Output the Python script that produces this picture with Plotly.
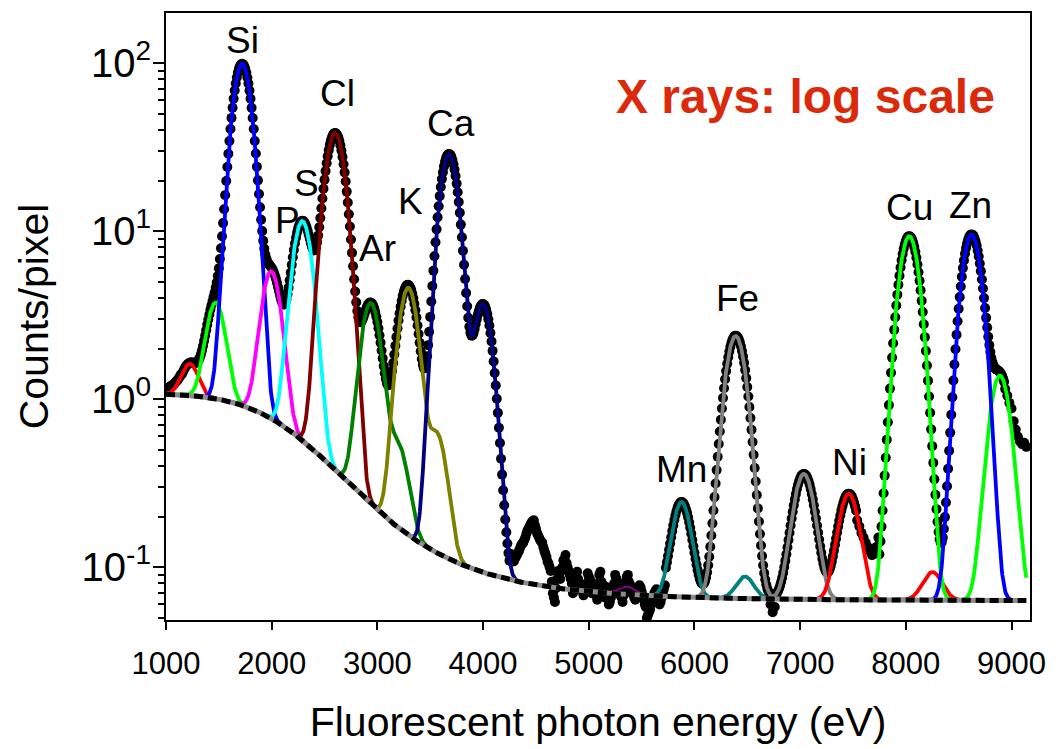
import numpy as np
import plotly.graph_objects as go

# ---------------- data ----------------
# Smooth background (read levels): low-energy level, high-energy level, mid energy, steepness
bg_low = 1.08
bg_high = 0.063
bg_mid = 2865.0
bg_steep = 5.5

# Fitted fluorescence components (K-alpha + K-beta share one colour / one curve)
peak_names = ["Mg", "Al", "Si", "P", "S", "Cl", "Ar", "K", "Ca", "Cr", "Mn", "Fe", "Ni", "Cu", "Zn"]
peak_colors = ["#ff0000", "#00ff00", "#0000ff", "#ff00ff", "#00ffff", "#800000", "#008000",
               "#808000", "#000080", "#800080", "#008080", "#808080", "#ff0000", "#00ff00", "#0000ff"]
ka_center = [1225, 1470, 1720, 1995, 2290, 2600, 2936, 3292, 3678, 5360, 5878, 6390, 7460, 8032, 8622]
ka_amp = [0.57, 2.75, 98.0, 5.0, 10.9, 38.0, 3.5, 4.45, 28.5, 0.008, 0.178, 2.31, 0.21, 9.27, 9.49]
kb_center = [1300, 1560, 1830, 2140, 2465, 2815, 3190, 3560, 3998, 5950, 6478, 7035, 8252, 8890, 9570]
kb_amp = [0.0, 0.0, 0.0, 0.0, 0.0, 0.0, 0.37, 0.5, 3.58, 0.0, 0.023, 0.295, 0.030, 1.32, 0.0]
sigma = [75, 80, 81, 82, 84, 86, 84, 82, 80, 80, 80, 90, 88, 88, 85]

head_E = list(range(1000, 1141, 10))
head_v = [1.15, 1.16, 1.17, 1.18, 1.19, 1.20, 1.21, 1.22, 1.24, 1.26, 1.28, 1.30, 1.33, 1.36, 1.40]

noise_E = list(range(4260, 5721, 20))
noise_v = [0.120, 0.115, 0.112, 0.118, 0.125, 0.135, 0.140, 0.150, 0.165, 0.175, 0.185, 0.190, 0.170, 0.155,
           0.145, 0.140, 0.125, 0.115, 0.105, 0.095, 0.070, 0.062, 0.085, 0.090, 0.095, 0.110, 0.118, 0.100,
           0.090, 0.080, 0.075, 0.090, 0.085, 0.078, 0.072, 0.070, 0.080, 0.088, 0.082, 0.076, 0.072, 0.064,
           0.090, 0.082, 0.078, 0.072, 0.068, 0.062, 0.070, 0.080, 0.086, 0.078, 0.068, 0.062, 0.074, 0.088,
           0.082, 0.076, 0.070, 0.064, 0.070, 0.078, 0.072, 0.064, 0.058, 0.052, 0.056, 0.062, 0.070, 0.074,
           0.068, 0.062, 0.070, 0.078]
noise2_E = list(range(4270, 5711, 20))
noise2_v = [0.118, 0.108, 0.115, 0.122, 0.130, 0.138, 0.145, 0.158, 0.170, 0.180,
            0.188, 0.178, 0.160, 0.150, 0.142, 0.132, 0.120, 0.108, 0.100, 0.082,
            0.066, 0.075, 0.095, 0.085, 0.100, 0.112, 0.106, 0.095, 0.085, 0.070,
            0.082, 0.094, 0.080, 0.075, 0.068, 0.076, 0.092, 0.085, 0.070, 0.078,
            0.068, 0.080, 0.094, 0.074, 0.066, 0.076, 0.060, 0.066, 0.076, 0.090,
            0.082, 0.072, 0.066, 0.068, 0.082, 0.090, 0.079, 0.072, 0.066, 0.068,
            0.075, 0.076, 0.068, 0.060, 0.050, 0.054, 0.060, 0.066, 0.072, 0.066,
            0.060, 0.066, 0.074]
dip_E = [6720, 6740, 6760]
dip_v = [0.060, 0.054, 0.058]
ni_tail_E = [7540, 7560, 7580, 7600, 7620, 7640, 7660, 7680, 7700, 7720, 7740]
ni_tail_v = [0.190, 0.175, 0.160, 0.150, 0.140, 0.132, 0.125, 0.118, 0.120, 0.132, 0.150]
tail_E = [8940, 8960, 8980, 9000, 9020, 9040, 9060, 9080, 9100, 9120, 9140]
tail_v = [1.15, 1.05, 0.95, 0.88, 0.74, 0.66, 0.60, 0.56, 0.54, 0.55, 0.52]

# Labels
label_text = ["Si", "Cl", "S", "P", "Ca", "K", "Ar", "Fe", "Mn", "Ni", "Cu", "Zn"]
label_E = [1722, 2618, 2325, 2146, 3693, 3316, 3005, 6410, 5882, 7467, 8033, 8608]
label_v = [137, 65.8, 19.2, 11.5, 43.7, 15.0, 7.93, 3.95, 0.382, 0.42, 13.9, 14.3]

x_ticks = [1000, 2000, 3000, 4000, 5000, 6000, 7000, 8000, 9000]
y_ticks = [0.1, 1, 10, 100]
y_ticktext = ["10<sup>-1</sup>", "10<sup>0</sup>", "10<sup>1</sup>", "10<sup>2</sup>"]
y_minor = [0.05, 0.06, 0.07, 0.08, 0.09, 0.2, 0.3, 0.4, 0.5, 0.6, 0.7, 0.8, 0.9,
           2, 3, 4, 5, 6, 7, 8, 9, 20, 30, 40, 50, 60, 70, 80, 90]

E_start, E_end, E_step = 1000, 9140, 10


# ---------------- model helpers ----------------
def background(E):
    E = np.asarray(E, float)
    f = 1.0 / (1.0 + (E / bg_mid) ** (-bg_steep))
    return 10 ** (np.log10(bg_low) + (np.log10(bg_high) - np.log10(bg_low)) * f)


def gauss(E, c, a, s):
    return a * np.exp(-((E - c) ** 2) / (2.0 * s * s))


def component(i, E):
    return (gauss(E, ka_center[i], ka_amp[i], sigma[i])
            + gauss(E, kb_center[i], kb_amp[i], sigma[i]))


E_data = np.arange(E_start, E_end + 1, E_step, dtype=float)
total = background(E_data) + sum(component(i, E_data) for i in range(len(peak_names)))
mask = np.ones_like(E_data, dtype=bool)
for seg in (head_E, noise_E, dip_E, ni_tail_E, tail_E):
    mask &= ~((E_data >= seg[0]) & (E_data <= seg[-1]))
data_E = np.concatenate([E_data[mask], head_E, noise_E, noise2_E, dip_E, ni_tail_E, tail_E])
data_v = np.concatenate([total[mask], head_v, noise_v, noise2_v, dip_v, ni_tail_v, tail_v])
order = np.argsort(data_E)
data_E, data_v = data_E[order], data_v[order]

fig = go.Figure()
fig.add_trace(go.Scatter(x=data_E, y=data_v, mode="markers",
                         marker=dict(color="black", size=10, line=dict(width=0)),
                         hoverinfo="skip"))

for i, name in enumerate(peak_names):
    lo = ka_center[i] - 5 * sigma[i]
    hi = (kb_center[i] if kb_amp[i] > 0 else ka_center[i]) + 5 * sigma[i]
    lo, hi = max(lo, E_start), min(hi, E_end)
    Ec = np.arange(lo, hi + 1, 4.0)
    yc = background(Ec) + component(i, Ec)
    fig.add_trace(go.Scatter(x=Ec, y=yc, mode="lines",
                             line=dict(color=peak_colors[i], width=3.8 if ka_amp[i] > 0.05 else 2),
                             hoverinfo="skip"))

Eb = np.arange(E_start, E_end + 1, 4.0)
fig.add_trace(go.Scatter(x=Eb, y=background(Eb), mode="lines",
                         line=dict(color="#8c8c8c", width=5), hoverinfo="skip"))
fig.add_trace(go.Scatter(x=Eb, y=background(Eb), mode="lines",
                         line=dict(color="black", width=5, dash="9px,5px"), hoverinfo="skip"))

font_family = "Liberation Sans, Arial, Helvetica, sans-serif"
for t, ex, ev in zip(label_text, label_E, label_v):
    fig.add_annotation(x=ex, y=np.log10(ev), text=t, showarrow=False,
                       font=dict(size=37, color="black", family=font_family))

fig.add_annotation(x=7052, y=np.log10(63), text="<b>X rays: log scale</b>", showarrow=False,
                   font=dict(size=48, color="#db2a0b", family=font_family))

fig.update_layout(
    width=1057, height=749,
    margin=dict(l=166, r=25, t=11, b=129),
    paper_bgcolor="white", plot_bgcolor="white",
    showlegend=False,
    font=dict(family=font_family, color="black"),
)
fig.update_xaxes(range=[1000, 9175], tickmode="array", tickvals=x_ticks,
                 ticktext=[str(v) for v in x_ticks],
                 ticks="outside", ticklen=8, tickwidth=2, tickcolor="black",
                 linecolor="black", linewidth=2, mirror=True, showgrid=False, zeroline=False,
                 tickfont=dict(size=31), ticklabelstandoff=7,
                 title=dict(text="Fluorescent photon energy (eV)", font=dict(size=41), standoff=27))
fig.update_yaxes(type="log", range=[np.log10(0.0485), np.log10(198.6)],
                 tickmode="array", tickvals=y_ticks, ticktext=y_ticktext,
                 ticks="outside", ticklen=11, tickwidth=2, tickcolor="black",
                 minor=dict(tickmode="array", tickvals=y_minor, ticks="outside", ticklen=6,
                            tickwidth=1.5, tickcolor="black", showgrid=False),
                 linecolor="black", linewidth=2, mirror=True, showgrid=False, zeroline=False,
                 tickfont=dict(size=40), ticklabelstandoff=-6,
                 title=dict(text="Counts/pixel", font=dict(size=41), standoff=20))

fig.write_html("out.html", config={"displayModeBar": False},
               post_script="document.body.style.margin='0px';")
